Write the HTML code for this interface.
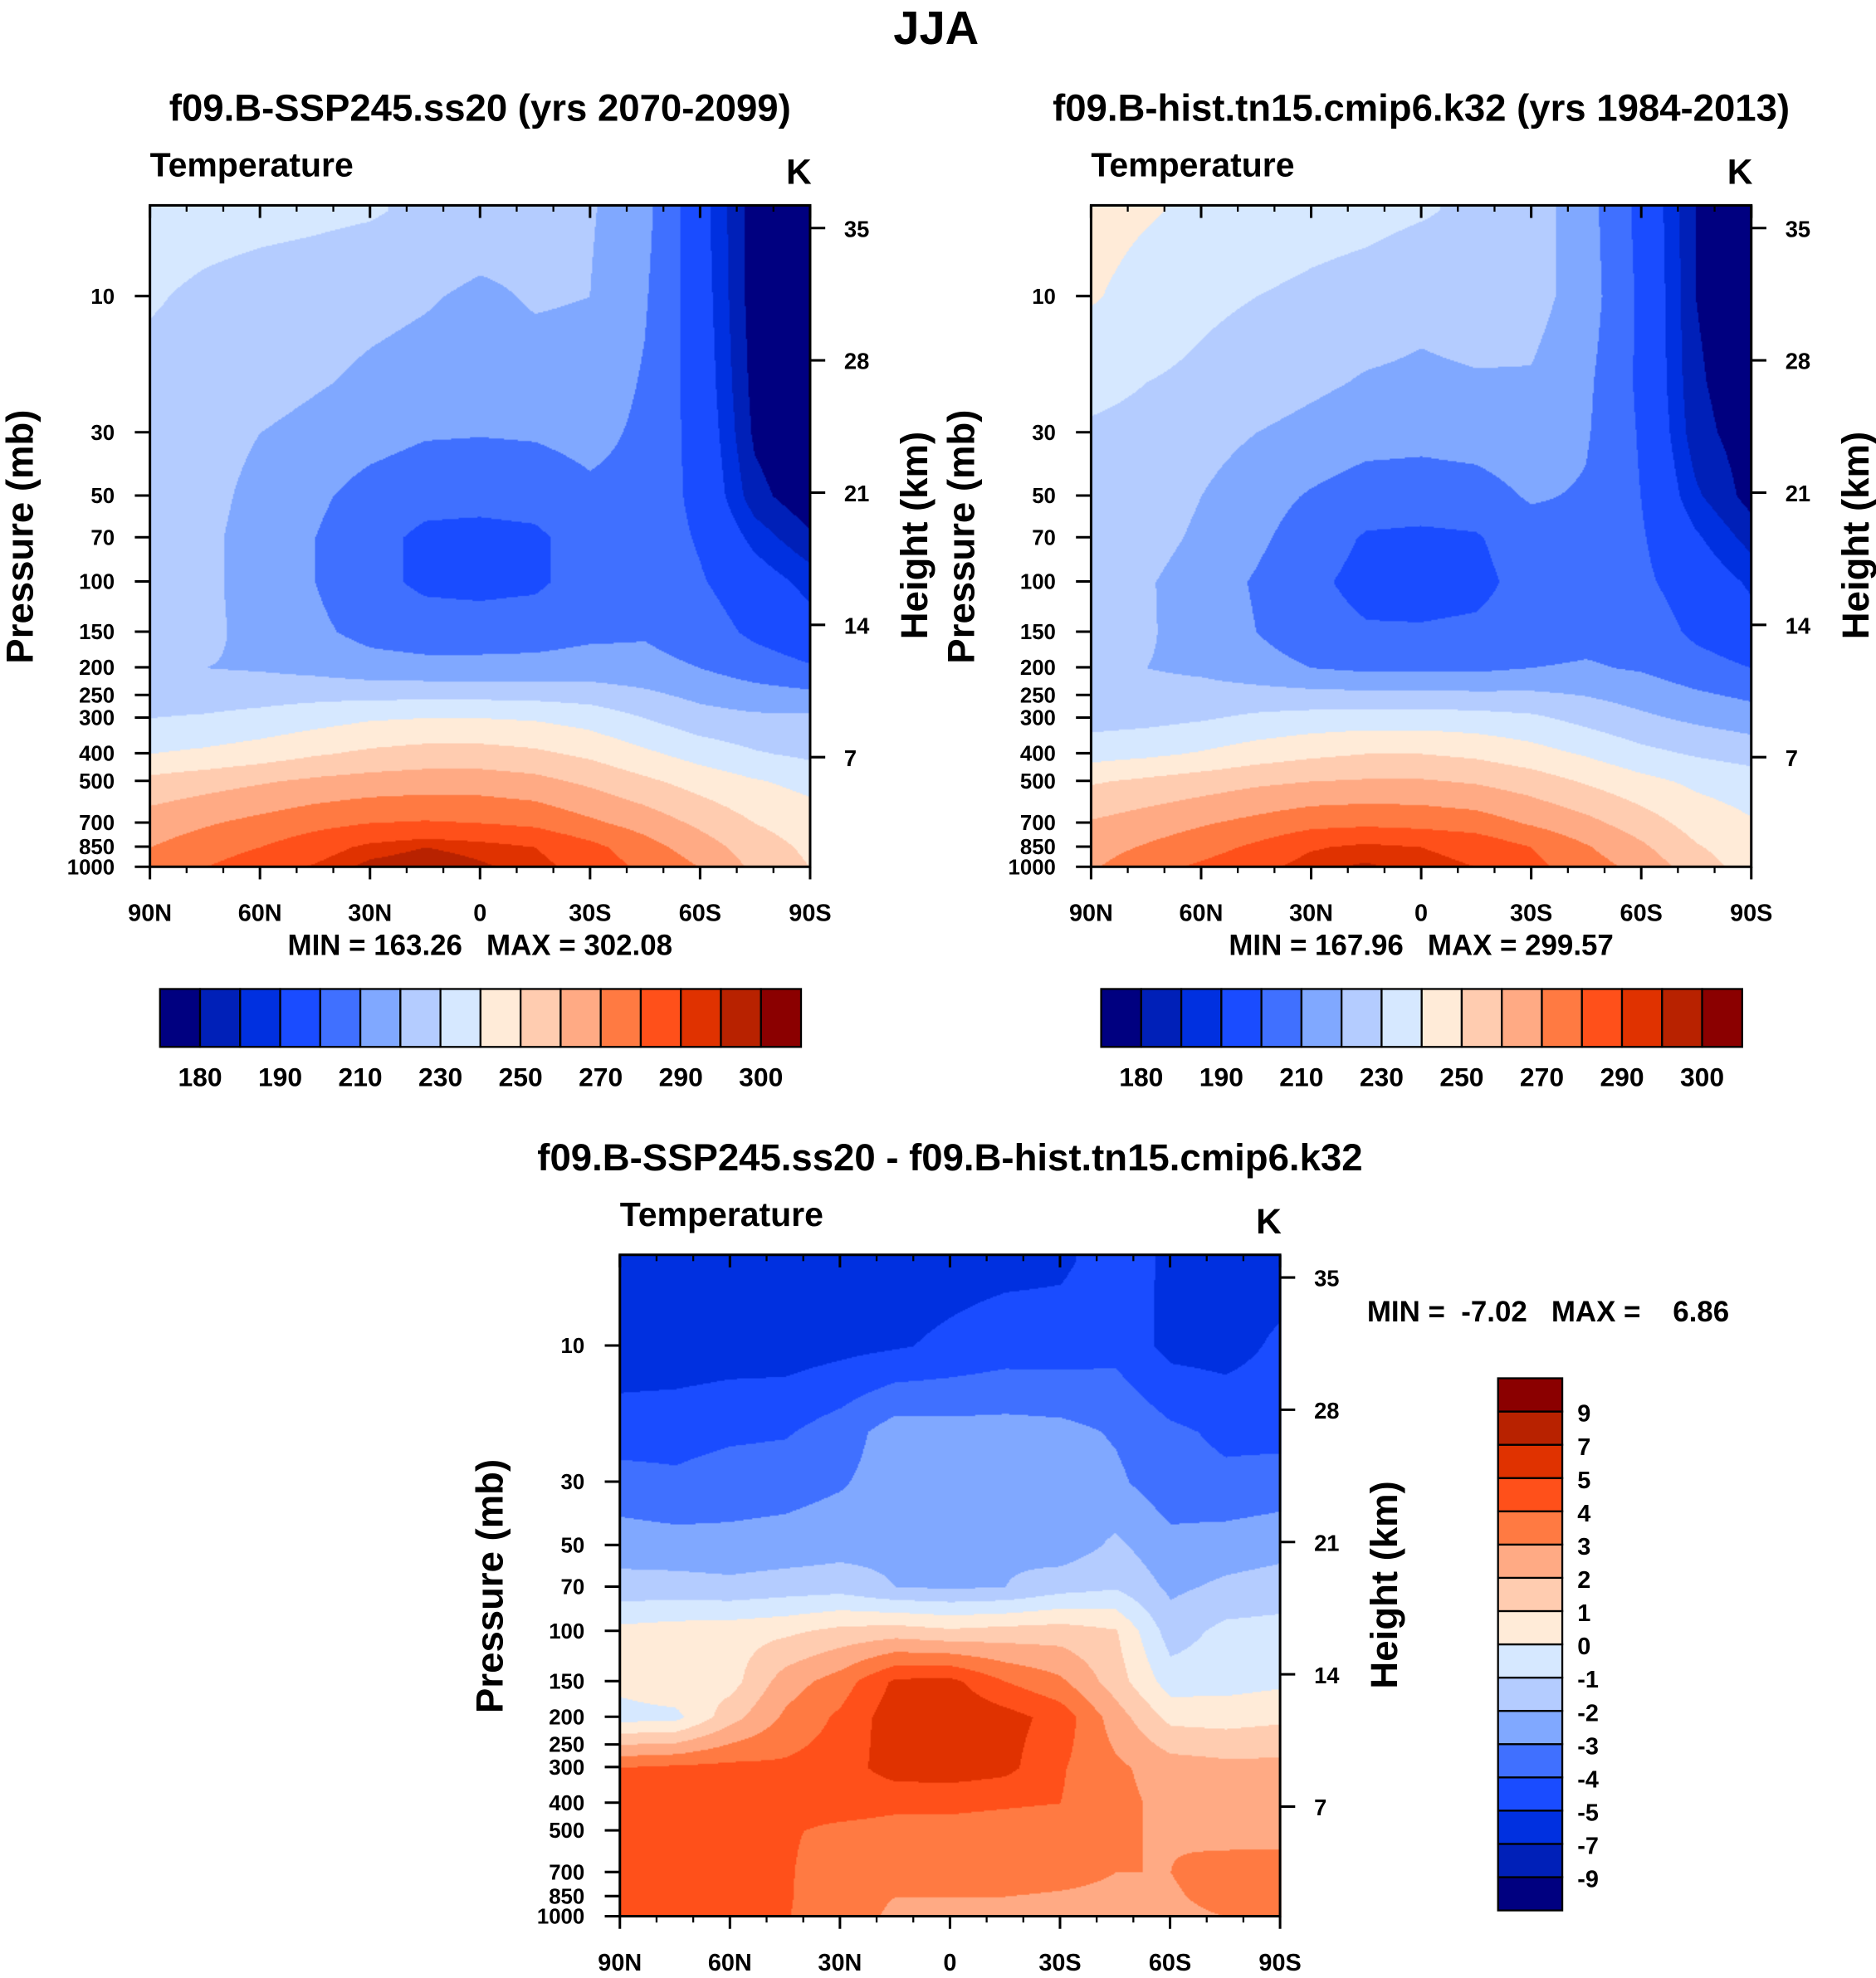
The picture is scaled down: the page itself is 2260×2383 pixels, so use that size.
<!DOCTYPE html>
<html><head><meta charset="utf-8">
<style>
html,body{margin:0;padding:0;background:#fff;}
#root{position:relative;width:1489px;height:1570px;transform:scale(1.51780);transform-origin:0 0;font-family:"Liberation Sans",sans-serif;}
canvas{position:absolute;}
svg{position:absolute;left:0;top:0;}
text{font-family:"Liberation Sans",sans-serif;font-weight:bold;fill:#000;white-space:pre;}
</style></head>
<body>
<div id="root">
<canvas id="c1" width="524" height="525" style="left:119px;top:163px;width:524px;height:525px"></canvas>
<canvas id="c2" width="524" height="525" style="left:866px;top:163px;width:524px;height:525px"></canvas>
<canvas id="c3" width="525" height="525" style="left:492px;top:996px;width:525px;height:525px"></canvas>
<svg id="s" width="1489" height="1570" viewBox="0 0 1489 1570">
<text x="743" y="35" font-size="37" text-anchor="middle">JJA</text>
</svg>
</div>
<script>
const lats = ["90N","75N","60N","45N","30N","15N","0","15S","30S","45S","60S","75S","90S"];
const plevs = [5,10,20,30,50,70,100,150,200,300,400,500,700,850,1000];
const ssp = [
[235,234,233,232,231,228,226,224,221,213,193,177,170],
[231,228,226,225,223,221,218,221,220,211,194,177,172],
[227,226,224,221,218,216,215,216,216,209,195,178,173],
[226,224,220,217,214,211,210.5,211,213,208,196,179,174],
[225,223,217,212,206,203,203,204,208,207,197,182,176],
[224,222,216,210,203,198,197,198,205,206,199,188,181],
[223,222,216,210,203,198,197,198,205,207,201,194,188],
[223,222,217,212,207,205,205,206,208,209,205,198,193],
[221,220,219,217,214,213,213,213,214,213,210,205,201],
[230,231,233,236,239,240,240,239,236,230,224,222,222],
[240,242,245,249,252,254,254,252,248,242,236,231,228],
[253,256,259,262,264,265,265,263,258,252,246,241,237],
[265,269,273,277,280,281,280,278,272,266,258,250,245],
[270,275,280,286,292,295,293,290,283,274,265,255,248],
[273,280,286,291,297,299,296,293,286,278,270,258,250]];
const hist = [
[244,241,238,236,234,233,231,228,225,214,197,180,174],
[241,236,232,230,228,226,223,225,224,215,198,180,175],
[232,230,228,225,222,219,218,219,219,212,198,181,176],
[229,228,224,220,217,214,213,214,216,211,199,182,177],
[228,226,220,214,209,205,205,206,211,209,200,186,178],
[226,224,218,212,205,199,198,199,206,207,201,191,183],
[223,221,215,209,202,197,196,197,204,206,202,195,189],
[223,221,216,210,204,201,201,202,205,207,206,198,193],
[221,220,218,214,210,208,208,208,210,211,209,204,200],
[226,227,229,232,234,235,235,234,232,227,222,218,215],
[236,238,241,245,248,250,250,248,244,239,233,229,226],
[249,252,255,258,260,261,261,259,255,249,243,238,235],
[261,265,269,273,277,278,277,275,269,263,255,246,241],
[266,271,276,282,289,292,290,287,280,271,262,251,244],
[269,276,282,287,294,296,293,290,283,275,267,255,246]];
const diff = [
[-5.5,-5.5,-5.5,-5.5,-5.5,-5.5,-5.4,-5.3,-5.2,-4.5,-5.2,-5.5,-5.5],
[-5.6,-5.6,-5.5,-5.5,-5.3,-5.1,-4.8,-4.5,-4.5,-4.3,-5.3,-5.4,-4.8],
[-4.5,-4.4,-4.2,-4.1,-3.5,-2.5,-2.6,-2.6,-2.7,-3.1,-3.8,-4.2,-4.3],
[-3.6,-3.8,-3.5,-3.4,-3.1,-2.5,-2.4,-2.4,-2.5,-2.8,-3.6,-3.8,-3.6],
[-2.5,-2.6,-2.7,-2.6,-2.4,-2.3,-2.3,-2.2,-2.6,-1.8,-2.7,-2.5,-2.3],
[-1.6,-1.6,-1.7,-1.5,-1.4,-2.0,-2.1,-2.0,-1.4,-1.1,-2.2,-1.8,-1.6],
[0.3,0.5,0.6,0.8,1.3,1.5,1.2,1.4,1.5,1.1,-1.5,-0.7,-0.6],
[0.3,0.8,0.6,2.5,3.5,5.2,5.3,4.0,3.2,1.5,-0.5,-0.4,-0.2],
[-0.4,-0.3,1.6,3.2,4.2,5.6,5.8,5.4,4.6,2.5,0.7,0.6,0.8],
[4.0,4.2,4.3,4.2,4.5,5.5,5.6,5.3,4.1,3.2,2.5,2.3,2.3],
[4.5,4.3,4.4,4.3,4.4,4.2,4.2,4.1,4.0,3.3,2.7,2.4,2.3],
[4.2,4.2,4.2,4.1,3.8,3.7,3.7,3.6,3.5,3.1,2.9,2.4,2.4],
[4.3,4.2,4.3,4.1,3.5,3.4,3.4,3.4,3.3,3.0,3.0,3.7,3.8],
[4.3,4.2,4.3,4.1,3.4,3.0,3.0,3.0,2.9,2.8,2.8,3.5,3.7],
[4.3,4.2,4.2,4.05,3.5,2.8,2.7,2.7,2.7,2.6,2.6,3.0,3.5]];
const tLevels = [180,185,190,200,210,220,230,240,250,260,270,280,290,295,300];
const tLabels = ["180","190","210","230","250","270","290","300"];
const dLevels = [-9,-7,-5,-4,-3,-2,-1,0,1,2,3,4,5,7,9];
const xLabels = ["90N","60N","30N","0","30S","60S","90S"];
const pTicks = [10,30,50,70,100,150,200,250,300,400,500,700,850,1000];
const hTicks = [35,28,21,14,7];
const colors = ["#000080","#0020b8","#0030e0","#1a4cff","#4070ff","#80a8ff","#b4ccff","#d6e8ff","#ffebd8","#ffccb0","#ffaa84","#ff7a42","#ff501a","#e03200","#b82200","#8b0000"];

function yOf(p,top){ return top+525-226.5*(3-Math.log10(p)); }
function yH(h,top){ return top+543-15*h; }
function hexRgb(h){return [parseInt(h.substr(1,2),16),parseInt(h.substr(3,2),16),parseInt(h.substr(5,2),16)];}
const rgb = colors.map(hexRgb);
function band(v,levels){let k=0;while(k<levels.length&&v>=levels[k])k++;return k;}
const logs = plevs.map(p=>Math.log10(p));
function sample(grid,fx,lp){
  let fy;
  if(lp<=logs[0]) fy=0; else if(lp>=logs[logs.length-1]) fy=logs.length-1;
  else{let i=0;while(logs[i+1]<lp)i++;fy=i+(lp-logs[i])/(logs[i+1]-logs[i]);}
  const i0=Math.min(Math.floor(fy),grid.length-2), ty=fy-i0;
  const j0=Math.min(Math.floor(fx),lats.length-2), tx=fx-j0;
  const a=grid[i0][j0],b=grid[i0][j0+1],c=grid[i0+1][j0],d=grid[i0+1][j0+1];
  return (a*(1-tx)+b*tx)*(1-ty)+(c*(1-tx)+d*tx)*ty;
}
function paint(id,grid,levels){
  const cv=document.getElementById(id),ctx=cv.getContext('2d');
  const W=cv.width,H=cv.height,img=ctx.createImageData(W,H);
  for(let y=0;y<H;y++){
    const lp=3-(H-y)/226.5;
    for(let x=0;x<W;x++){
      const fx=x/(W-1)*(lats.length-1);
      const c=rgb[band(sample(grid,fx,lp),levels)];
      const o=(y*W+x)*4;img.data[o]=c[0];img.data[o+1]=c[1];img.data[o+2]=c[2];img.data[o+3]=255;
    }
  }
  ctx.putImageData(img,0,0);
}
paint('c1',ssp,tLevels);paint('c2',hist,tLevels);paint('c3',diff,dLevels);

const NS="http://www.w3.org/2000/svg", svg=document.getElementById('s');
function el(tag,attrs,txt){const e=document.createElementNS(NS,tag);for(const k in attrs)e.setAttribute(k,attrs[k]);if(txt!==undefined)e.textContent=txt;svg.appendChild(e);return e;}

function axes(L,T,title,tag){
  const W=525,H=525;
  let t=el('text',{x:L+262,y:T-67,'font-size':30,'text-anchor':'middle'},title);
  
  
  t=el('text',{x:L,y:T-23,'font-size':27},'Temperature');
  
  
  t=el('text',{x:L+515,y:T-17,'font-size':28,'text-anchor':'middle'},'K');
  
  
  t=el('rect',{x:L,y:T,width:W-1,height:H,fill:'none',stroke:'#000','stroke-width':2});
  
  
  xLabels.forEach((lb,i)=>{
    const x=L+i*(W-1)/6;
    el('line',{x1:x,y1:T,x2:x,y2:T+10,stroke:'#000','stroke-width':2});
    el('line',{x1:x,y1:T+H,x2:x,y2:T+H+10,stroke:'#000','stroke-width':2});
    const e=el('text',{x:x,y:T+H+43,'font-size':19,'text-anchor':'middle'},lb);
    
    
  });
  for(let i=0;i<=18;i++){const x=L+i*(W-1)/18;
    el('line',{x1:x,y1:T,x2:x,y2:T+5,stroke:'#000','stroke-width':1.5});
    el('line',{x1:x,y1:T+H,x2:x,y2:T+H+5,stroke:'#000','stroke-width':1.5});}
  pTicks.forEach(p=>{
    const y=yOf(p,T);
    el('line',{x1:L-12,y1:y,x2:L,y2:y,stroke:'#000','stroke-width':2});
    const e=el('text',{x:L-28,y:y+6,'font-size':17,'text-anchor':'end'},String(p));
    
    
  });
  hTicks.forEach(h=>{
    const y=yH(h,T);
    el('line',{x1:L+W-1,y1:y,x2:L+W+11,y2:y,stroke:'#000','stroke-width':2});
    const e=el('text',{x:L+W+26,y:y+7,'font-size':18},String(h));
    
    
  });
  t=el('text',{x:0,y:0,'font-size':30,'text-anchor':'middle',transform:`translate(${L-93},${T+263}) rotate(-90)`},'Pressure (mb)');
  
  
  t=el('text',{x:0,y:0,'font-size':30,'text-anchor':'middle',transform:`translate(${L+W+92},${T+262}) rotate(-90)`},'Height (km)');
  
  
}
function hbar(L,T,tag){
  const bw=31.8;
  for(let k=0;k<16;k++){
    const r=el('rect',{x:L+k*bw,y:T,width:bw,height:46,fill:colors[k],stroke:'#000','stroke-width':1.5});
    
    
  }
  tLabels.forEach((lb,i)=>{
    const e=el('text',{x:L+(1+2*i)*bw,y:T+77,'font-size':21,'text-anchor':'middle'},lb);
    
    
  });
}
axes(119,163,'f09.B-SSP245.ss20 (yrs 2070-2099)','ssp245');
axes(866,163,'f09.B-hist.tn15.cmip6.k32 (yrs 1984-2013)','hist');
axes(492,996,'f09.B-SSP245.ss20 - f09.B-hist.tn15.cmip6.k32','diff');
let m=el('text',{x:381,y:758,'font-size':23,'text-anchor':'middle','xml:space':'preserve'},'MIN = 163.26   MAX = 302.08');


m=el('text',{x:1128,y:758,'font-size':23,'text-anchor':'middle','xml:space':'preserve'},'MIN = 167.96   MAX = 299.57');


m=el('text',{x:1085,y:1049,'font-size':23,'xml:space':'preserve'},'MIN =  -7.02   MAX =    6.86');


hbar(127,785,'ssp245');hbar(874,785,'hist');
const bh=26.4;
for(let k=0;k<16;k++){
  const r=el('rect',{x:1189,y:1094+(15-k)*bh,width:51,height:bh,fill:colors[k],stroke:'#000','stroke-width':1.5});
  
  
}
dLevels.forEach((v,i)=>{
  const y=1094+(15-(i+1))*bh+bh;
  const e=el('text',{x:1252,y:y+8,'font-size':19},String(v));
  
  
});
</script>
</body></html>
